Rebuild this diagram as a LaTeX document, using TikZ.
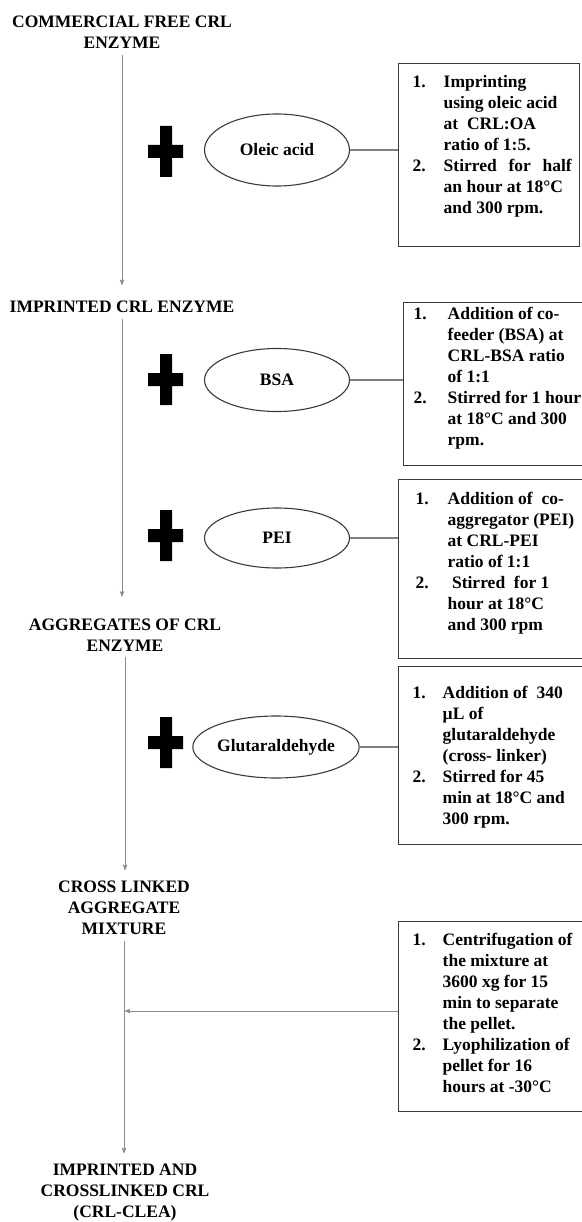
\documentclass[tikz,border=0pt]{standalone}
\usepackage{fontspec}
\setmainfont{Liberation Serif}
\usetikzlibrary{arrows,shapes.geometric}
\definecolor{flowgray}{HTML}{8C8C8C}
\definecolor{edgegray}{HTML}{3A3A3A}
\newcommand{\notepanel}[6]{\begin{minipage}[t][#2][t]{#1}\vspace*{#4}\hspace*{#3}%
\begin{tabular}[t]{@{}p{#5}@{}l@{}}#6\end{tabular}\end{minipage}}

\begin{document}
\begin{tikzpicture}[x=1pt,y=-1pt,>=stealth',font=\fontsize{17.5}{21}\selectfont\bfseries,
	stage/.style={align=center,inner xsep=0pt,inner ysep=6pt},
	reagent/.style={ellipse,draw=edgegray,line width=1.1pt,inner sep=0pt},
	notebox/.style={draw=edgegray,line width=1.4pt,inner sep=0pt,anchor=north west},
	flow/.style={->,draw=flowgray,line width=0.9pt},
	link/.style={draw=gray,line width=1.2pt}]
			\useasboundingbox (0,0) rectangle (581,1222);
			% main stages
			\node[stage] (t1) at (122,32.5) {COMMERCIAL FREE CRL\\ENZYME};
			\node[stage] (t2) at (122,307) {IMPRINTED CRL ENZYME};
			\node[stage] (t3) at (125,635) {AGGREGATES OF CRL\\ENZYME};
			\node[stage] (t4) at (124,908) {CROSS LINKED\\AGGREGATE\\MIXTURE};
			\node[stage] (t5) at (125,1193) {IMPRINTED AND\\CROSSLINKED CRL\\(CRL-CLEA)};
			% reagents
			\node[reagent,minimum width=145pt,minimum height=72pt] (oleic) at (277,150) {Oleic acid};
			\node[reagent,minimum width=145pt,minimum height=63pt] (bsa) at (277,380) {BSA};
			\node[reagent,minimum width=145pt,minimum height=60pt] (pei) at (277,538) {PEI};
			\node[reagent,minimum width=163pt,minimum height=62pt] (glut) at (276,747) {Glutaraldehyde};
			\foreach \y in {152,380,536,743}
				\fill (148,\y-7) rectangle (183,\y+6) (160,\y-26) rectangle (172,\y+25);
			% conditions
			\node[notebox] (box1) at (398,63) {\notepanel{181pt}{183pt}{14pt}{9pt}{31pt}{%
				1. & Imprinting\\
				& using oleic acid\\
				& at \ CRL:OA\\
				& ratio of 1:5.\\
				2. & \makebox[128pt][s]{Stirred for half}\\
				& an hour at 18°C\\
				& and 300 rpm.}};
			\node[notebox] (box2) at (403,302) {\notepanel{185pt}{163pt}{10pt}{2pt}{34pt}{%
				1. & Addition of co-\\
				& feeder (BSA) at\\
				& CRL-BSA ratio\\
				& of 1:1\\
				2. & Stirred for 1 hour\\
				& at 18°C and 300\\
				& rpm.}};
			\node[notebox] (box3) at (398,479) {\notepanel{190pt}{179pt}{17pt}{10pt}{32pt}{%
				1. & Addition of \ co-\\
				& aggregator (PEI)\\
				& at CRL-PEI\\
				& ratio of 1:1\\
				2. & \ Stirred \ for 1\\
				& hour at 18°C\\
				& and 300 rpm}};
			\node[notebox] (box4) at (398,666) {\notepanel{190pt}{178pt}{14pt}{17pt}{30pt}{%
				1. & Addition of \ 340\\
				& µL of\\
				& glutaraldehyde\\
				& (cross- linker)\\
				2. & Stirred for 45\\
				& min at 18°C and\\
				& 300 rpm.}};
			\node[notebox] (box5) at (398,921) {\notepanel{190pt}{190pt}{14pt}{9pt}{30pt}{%
				1. & Centrifugation of\\
				& the mixture at\\
				& 3600 xg for 15\\
				& min to separate\\
				& the pellet.\\
				2. & Lyophilization of\\
				& pellet for 16\\
				& hours at -30°C}};
			% connectors
			\draw[flow,shorten >=10pt] (t1.south) -- (t1.south |- t2.north);
			\draw[flow,shorten >=16pt] (t2.south) -- (t2.south |- t3.north);
			\draw[flow,shorten >=5pt] (t3.south) -- (t3.south |- t4.north);
			\draw[flow,shorten >=5pt] (t4.south) -- (t4.south |- t5.north);
			\draw[link] (oleic.east) -- (oleic.east -| box1.west);
			\draw[link] (bsa.east) -- (bsa.east -| box2.west);
			\draw[link] (pei.east) -- (pei.east -| box3.west);
			\draw[link] (glut.east) -- (glut.east -| box4.west);
			\coordinate (merge) at (125,1011);
			\draw[flow] (box5.west |- merge) -- (merge);
		\end{tikzpicture}
\end{document}
